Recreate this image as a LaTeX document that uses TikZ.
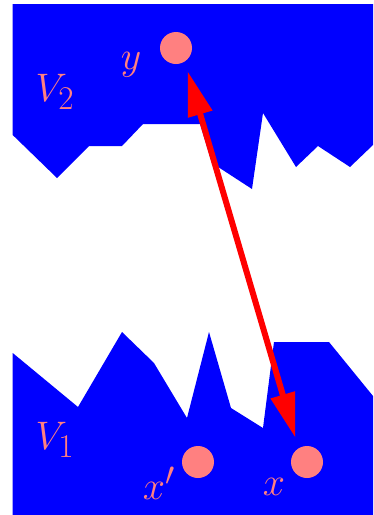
\documentclass[tikz,border=0pt]{standalone}
\usepackage{amsmath}
\usetikzlibrary{arrows.meta}
\definecolor{rosa}{RGB}{255,128,128}

\begin{document}
\begin{tikzpicture}[x=1pt,y=-1pt,line width=6pt,>={Triangle[length=45pt,width=24pt]},
  dot/.style={circle,fill=rosa,inner sep=0pt,minimum size=32pt},
  lbl/.style={text=rosa,font=\Huge,scale=1.6}]
  \useasboundingbox (0,0) rectangle (373,515);
  % region V2 (arriba)
  \fill[blue] (12.7,4)--(373,4)--(373,145)--(350,167)--(318,146)--(296,167)--(263,113)
    --(252,189)--(212,163)--(200,124)--(143,124)--(122,146)--(89,146)--(57,178)--(12.7,135)--cycle;
  % region V1 (abajo)
  \fill[blue] (12.7,353)--(78,407)--(122,332)--(154,363)--(187,418)--(209,332)--(231,408)
    --(263,428)--(274,342)--(329,342)--(373,396)--(373,515)--(12.7,515)--cycle;
  \node[dot] (ydot) at (176,48) {};
  \node[dot] (xpdot) at (198,462) {};
  \node[dot] (xdot) at (307,462) {};
  \node[lbl] (ylab) at (131,65) {$y$};
  \node[lbl] (vdos) at (55,92) {$V_2$};
  \node[lbl] (vuno) at (55,440) {$V_1$};
  \node[lbl] (xplab) at (159,483) {$x'$};
  \node[lbl] (xlab) at (274,487) {$x$};
  % flecha doble
  \coordinate (ya) at (187.5,71);
  \coordinate (xa) at (295.5,438);
  \draw[red,<->] (ya)--(xa);
\end{tikzpicture}
\end{document}
